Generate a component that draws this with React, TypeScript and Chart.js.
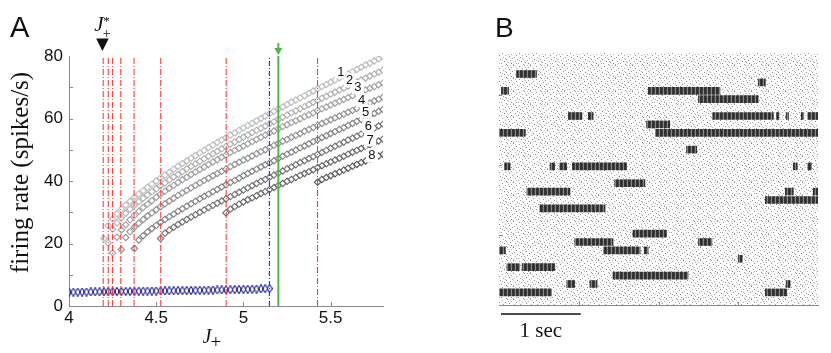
import React, { useEffect, useRef } from "react";
import { Chart, registerables } from "chart.js";

Chart.register(...registerables);

// ---------------- Panel A data ----------------
const J_GRID = [
  4.0, 4.025, 4.05, 4.075, 4.1, 4.125, 4.15, 4.175, 4.2, 4.225, 4.25, 4.275, 4.3, 4.325, 4.35, 4.375,
  4.4, 4.425, 4.45, 4.475, 4.5, 4.525, 4.55, 4.575, 4.6, 4.625, 4.65, 4.675, 4.7, 4.725, 4.75, 4.775,
  4.8, 4.825, 4.85, 4.875, 4.9, 4.925, 4.95, 4.975, 5.0, 5.025, 5.05, 5.075, 5.1, 5.125, 5.15, 5.175,
  5.2, 5.225, 5.25, 5.275, 5.3, 5.325, 5.35, 5.375, 5.4, 5.425, 5.45, 5.475, 5.5, 5.525, 5.55, 5.575,
  5.6, 5.625, 5.65, 5.675, 5.7, 5.725, 5.75, 5.775, 5.8,
];

// each branch ends at J = 5.8 (last grid value)
const BRANCH_1 = [
  21.6, 25.8, 27.9, 29.5, 31.0, 32.3, 33.5, 34.7, 35.8, 36.9, 38.0, 39.0, 40.0, 41.0, 41.9, 42.8, 43.8,
  44.7, 45.6, 46.4, 47.3, 48.1, 49.0, 49.8, 50.7, 51.5, 52.3, 53.1, 53.9, 54.7, 55.4, 56.2, 57.0, 57.8,
  58.5, 59.3, 60.0, 60.8, 61.5, 62.3, 63.0, 63.7, 64.5, 65.2, 65.9, 66.6, 67.3, 68.1, 68.8, 69.5, 70.2,
  70.9, 71.6, 72.3, 73.0, 73.6, 74.3, 75.0, 75.7, 76.4, 77.1, 77.7, 78.4, 79.1, 79.8,
];
const BRANCH_2 = [
  20.2, 24.6, 26.6, 28.2, 29.7, 31.0, 32.2, 33.4, 34.5, 35.5, 36.6, 37.5, 38.5, 39.4, 40.4, 41.3, 42.1,
  43.0, 43.9, 44.7, 45.5, 46.3, 47.1, 47.9, 48.7, 49.5, 50.3, 51.0, 51.8, 52.5, 53.3, 54.0, 54.7, 55.5,
  56.2, 56.9, 57.6, 58.3, 59.0, 59.7, 60.4, 61.1, 61.8, 62.5, 63.1, 63.8, 64.5, 65.2, 65.8, 66.5, 67.1,
  67.8, 68.4, 69.1, 69.7, 70.4, 71.0, 71.7, 72.3, 72.9, 73.6, 74.2, 74.8, 75.5,
];
const BRANCH_3 = [
  17.0, 22.0, 24.3, 26.0, 27.6, 29.0, 30.3, 31.5, 32.6, 33.7, 34.8, 35.8, 36.7, 37.7, 38.6, 39.5, 40.4,
  41.2, 42.1, 42.9, 43.7, 44.5, 45.3, 46.1, 46.8, 47.6, 48.3, 49.1, 49.8, 50.5, 51.2, 51.9, 52.6, 53.3,
  54.0, 54.7, 55.4, 56.0, 56.7, 57.4, 58.0, 58.7, 59.3, 59.9, 60.6, 61.2, 61.8, 62.5, 63.1, 63.7, 64.3,
  64.9, 65.5, 66.1, 66.7, 67.3, 67.9, 68.5, 69.1, 69.7, 70.2, 70.8, 71.4,
];
const BRANCH_4 = [
  18.1, 21.9, 23.8, 25.2, 26.5, 27.7, 28.8, 29.8, 30.8, 31.8, 32.7, 33.6, 34.5, 35.4, 36.2, 37.0, 37.8,
  38.6, 39.4, 40.2, 40.9, 41.7, 42.4, 43.1, 43.8, 44.6, 45.3, 46.0, 46.7, 47.3, 48.0, 48.7, 49.4, 50.0,
  50.7, 51.4, 52.0, 52.7, 53.3, 54.0, 54.6, 55.2, 55.9, 56.5, 57.1, 57.8, 58.4, 59.0, 59.6, 60.2, 60.8,
  61.4, 62.0, 62.6, 63.2, 63.8, 64.4, 65.0, 65.6, 66.2, 66.8,
];
const BRANCH_5 = [
  18.4, 21.1, 22.5, 23.7, 24.8, 25.8, 26.8, 27.7, 28.6, 29.4, 30.3, 31.1, 31.9, 32.7, 33.5, 34.3, 35.1,
  35.8, 36.6, 37.3, 38.1, 38.8, 39.5, 40.2, 40.9, 41.7, 42.4, 43.1, 43.8, 44.5, 45.2, 45.8, 46.5, 47.2,
  47.9, 48.6, 49.2, 49.9, 50.6, 51.2, 51.9, 52.6, 53.2, 53.9, 54.5, 55.2, 55.8, 56.5, 57.1, 57.8, 58.4,
  59.1, 59.7, 60.4, 61.0, 61.6, 62.3, 62.9,
];
const BRANCH_6 = [
  21.6, 23.3, 24.3, 25.2, 26.1, 26.9, 27.7, 28.5, 29.2, 30.0, 30.7, 31.5, 32.2, 32.9, 33.6, 34.3, 35.0,
  35.7, 36.4, 37.1, 37.8, 38.5, 39.2, 39.9, 40.5, 41.2, 41.9, 42.5, 43.2, 43.9, 44.5, 45.2, 45.9, 46.5,
  47.2, 47.8, 48.5, 49.1, 49.8, 50.5, 51.1, 51.8, 52.4, 53.1, 53.7, 54.3, 55.0, 55.6, 56.3, 56.9, 57.6,
  58.2,
];
const BRANCH_7 = [
  29.8, 31.0, 31.8, 32.6, 33.3, 34.0, 34.6, 35.3, 36.0, 36.6, 37.3, 37.9, 38.6, 39.2, 39.9, 40.5, 41.1,
  41.8, 42.4, 43.0, 43.6, 44.3, 44.9, 45.5, 46.1, 46.7, 47.3, 47.9, 48.6, 49.2, 49.8, 50.4, 51.0, 51.6,
  52.2, 52.8, 53.4,
];
const BRANCH_8 = [
  39.6, 40.5, 41.1, 41.7, 42.3, 42.9, 43.5, 44.1, 44.7, 45.3, 45.9, 46.4, 47.0, 47.5, 48.0, 48.5,
];
const BRANCHES = [BRANCH_1, BRANCH_2, BRANCH_3, BRANCH_4, BRANCH_5, BRANCH_6, BRANCH_7, BRANCH_8];
const BRANCH_COLORS = ["#bcbcbc", "#afafaf", "#a0a0a0", "#919191", "#838383", "#757575", "#686868", "#5c5c5c"];

// spontaneous (low) state, starts at J = 4.0
const LOW_STATE = [
  4.4, 4.42, 4.44, 4.46, 4.48, 4.5, 4.52, 4.54, 4.56, 4.58, 4.6, 4.62, 4.64, 4.66, 4.68, 4.7, 4.72, 4.74,
  4.76, 4.78, 4.8, 4.82, 4.84, 4.86, 4.88, 4.9, 4.92, 4.94, 4.97, 5.0, 5.02, 5.05, 5.08, 5.1, 5.13, 5.16,
  5.19, 5.22, 5.25, 5.28, 5.32, 5.35, 5.39, 5.43, 5.47, 5.52, 5.58,
];

const RED_LINES = [4.196, 4.225, 4.25, 4.297, 4.373, 4.526, 4.901, 5.425];
const BLUE_LINE = 5.149;
const GREEN_LINE = 5.2;
const J_STAR = 4.196;

const BRANCH_LABELS = ["1", "2", "3", "4", "5", "6", "7", "8"];
const LABEL_J = [5.558, 5.609, 5.656, 5.678, 5.701, 5.716, 5.726, 5.736];
const LABEL_RATE = [75.0, 72.2, 70.0, 65.8, 62.2, 57.6, 53.3, 48.2];

const X_TICKS_A = [4, 4.5, 5, 5.5];
const Y_TICKS_A = [0, 20, 40, 60, 80];
const Y_MINOR_A = [10, 20, 30, 40, 50, 60, 70];

// ---------------- Panel B data ----------------
const BURST_ROW = [
  27, 26, 25, 25, 24, 22, 22, 22, 22, 22, 22, 22, 21, 20, 20, 18, 16, 16, 16, 16, 16, 16, 14, 13, 13, 13,
  12, 11, 8, 7, 7, 6, 6, 6, 5, 4, 4, 3, 2, 2, 2, 1, 1,
];
const BURST_START = [
  0.22, 3.25, 0.03, 1.87, 2.5, 0.87, 1.12, 2.68, 3.48, 3.6, 3.79, 3.87, 1.85, 0.0, 1.96, 2.35, 0.07, 0.64,
  0.76, 0.92, 3.69, 3.87, 1.45, 0.35, 3.59, 3.94, 3.34, 0.51, 1.68, 0.95, 2.5, 1.31, 1.82, 0.0, 3.0, 0.1,
  0.29, 1.43, 0.85, 1.14, 3.6, 0.0, 3.34,
];
const BURST_END = [
  0.47, 3.34, 0.12, 2.77, 3.25, 1.04, 1.18, 3.44, 3.51, 3.63, 3.82, 4.0, 2.14, 0.33, 4.0, 2.48, 0.14, 0.7,
  0.85, 1.6, 3.74, 3.92, 1.83, 0.89, 3.69, 4.0, 4.0, 1.33, 2.1, 1.43, 2.67, 1.77, 1.87, 0.08, 3.05, 0.26,
  0.7, 2.37, 0.95, 1.23, 3.65, 0.66, 3.61,
];
const ROW_UNIT = 12;
const B_Y_MAX = 360;
const B_X_MAX = 4;
const B_X_TICKS = [1, 2, 3];
const B_Y_TICKS = [100, 200, 300];
const SCALE_BAR = [0, 1];
const SCALE_BAR_LABEL = "1 sec";

// ---------------- styles ----------------
const SANS = "'Liberation Sans', Arial, Helvetica, sans-serif";
const SERIF = "'Liberation Serif', 'Times New Roman', serif";
const AXIS_GRAY = "#8a8a8a";
const SPECKLE: [number, number, string][] = [
  [0, 0, "#888"], [6, 1, "#999"], [11, 0, "#999"], [15, 2, "#aaa"], [3, 3, "#888"], [9, 3, "#aaa"],
  [13, 4, "#888"], [1, 5, "#aaa"], [7, 5, "#999"], [16, 6, "#999"], [4, 7, "#888"], [10, 7, "#999"],
  [14, 8, "#999"], [2, 9, "#aaa"], [8, 9, "#888"], [12, 10, "#aaa"], [5, 11, "#999"], [15, 11, "#888"],
  [0, 12, "#aaa"], [10, 12, "#999"], [6, 8, "#bbb"], [12, 2, "#bbb"], [3, 11, "#bbb"], [9, 6, "#bbb"],
  [14, 0, "#bbb"], [2, 1, "#ccc"], [11, 9, "#bbb"],
];

function makeDiamond(w: number, h: number, color: string) {
  const c = document.createElement("canvas");
  c.width = w;
  c.height = h;
  const g = c.getContext("2d")!;
  g.strokeStyle = color;
  g.lineWidth = 1.1;
  g.beginPath();
  g.moveTo(w / 2, 0.5);
  g.lineTo(w - 0.5, h / 2);
  g.lineTo(w / 2, h - 0.5);
  g.lineTo(0.5, h / 2);
  g.closePath();
  g.stroke();
  return c;
}

function makeBurstPattern(ctx: CanvasRenderingContext2D) {
  const c = document.createElement("canvas");
  c.width = 4;
  c.height = 7;
  const g = c.getContext("2d")!;
  const cols = ["#2c2c2c", "#444444", "#858585", "#353535"];
  cols.forEach((col, i) => {
    g.fillStyle = col;
    g.fillRect(i, 0, 1, 7);
  });
  return ctx.createPattern(c, "repeat");
}

function makeSpecklePattern(ctx: CanvasRenderingContext2D) {
  const c = document.createElement("canvas");
  c.width = 17;
  c.height = 13;
  const g = c.getContext("2d")!;
  g.fillStyle = "#fff";
  g.fillRect(0, 0, 17, 13);
  SPECKLE.forEach(([x, y, col]) => {
    g.fillStyle = col;
    g.fillRect(x, y, 1, 1);
  });
  return ctx.createPattern(c, "repeat");
}

export default function App() {
  const refA = useRef<HTMLCanvasElement>(null);
  const refB = useRef<HTMLCanvasElement>(null);

  useEffect(() => {
    const blueDiamond = makeDiamond(6, 9, "#23238c");
    const n = J_GRID.length;

    // ---------- chart A ----------
    const datasetsA: any[] = [];
    const vline = (j: number, color: string, width: number, dash: number[]) => ({
      type: "line",
      data: [
        { x: j, y: 0 },
        { x: j, y: 80 },
      ],
      borderColor: color,
      borderWidth: width,
      borderDash: dash,
      pointRadius: 0,
      fill: false,
    });
    datasetsA.push(vline(GREEN_LINE, "#4db848", 2, []));
    datasetsA.push(vline(BLUE_LINE, "#3030ff", 1.2, [5, 2, 1, 2]));
    RED_LINES.forEach((j) => datasetsA.push(vline(j, "#ff2a2a", 1, [6, 2, 1, 2])));
    for (let k = BRANCHES.length - 1; k >= 0; k--) {
      const vals = BRANCHES[k];
      const off = n - vals.length;
      datasetsA.push({
        type: "scatter",
        data: vals.map((r, i) => ({ x: J_GRID[off + i], y: r })),
        pointStyle: "rectRot",
        pointRadius: 3.2,
        pointBorderWidth: 1.1,
        pointBorderColor: BRANCH_COLORS[k],
        pointBackgroundColor: "rgba(0,0,0,0)",
        showLine: false,
      });
    }
    datasetsA.push({
      type: "scatter",
      data: LOW_STATE.map((r, i) => ({ x: J_GRID[i], y: r })),
      pointStyle: blueDiamond,
      pointRadius: 3,
      showLine: false,
    });

    const decorA = {
      id: "decorA",
      afterDatasetsDraw(chart: any) {
        const { ctx, scales } = chart;
        const x = scales.x;
        const y = scales.y;
        ctx.save();
        ctx.font = `13px ${SANS}`;
        ctx.textAlign = "center";
        ctx.textBaseline = "middle";
        BRANCH_LABELS.forEach((t, i) => {
          const px = x.getPixelForValue(LABEL_J[i]);
          const py = y.getPixelForValue(LABEL_RATE[i]);
          ctx.fillStyle = "#fff";
          ctx.fillRect(px - 6, py - 7, 12, 14);
          ctx.fillStyle = "#111";
          ctx.fillText(t, px, py + 0.5);
        });
        ctx.restore();
      },
      afterDraw(chart: any) {
        const { ctx, scales, chartArea } = chart;
        const x = scales.x;
        const y = scales.y;
        ctx.save();
        // inward ticks
        ctx.strokeStyle = AXIS_GRAY;
        ctx.lineWidth = 1;
        ctx.beginPath();
        Y_MINOR_A.forEach((v) => {
          const py = Math.round(y.getPixelForValue(v)) + 0.5;
          ctx.moveTo(chartArea.left, py);
          ctx.lineTo(chartArea.left + 4, py);
        });
        X_TICKS_A.slice(1).forEach((v) => {
          const px = Math.round(x.getPixelForValue(v)) + 0.5;
          ctx.moveTo(px, chartArea.bottom);
          ctx.lineTo(px, chartArea.bottom - 4);
        });
        ctx.stroke();

        ctx.fillStyle = "#111";
        // panel letter
        ctx.font = `29px ${SANS}`;
        ctx.textAlign = "left";
        ctx.textBaseline = "alphabetic";
        ctx.fillText("A", 10, 36.5);

        // y title
        ctx.save();
        ctx.translate(chartArea.left - 41.5, (chartArea.top + chartArea.bottom) / 2 - 8.5);
        ctx.rotate(-Math.PI / 2);
        ctx.font = `25px ${SERIF}`;
        ctx.textAlign = "center";
        ctx.fillText("firing rate (spikes/s)", 0, 0);
        ctx.restore();

        // x title J_+
        const tx = x.getPixelForValue(4.765);
        ctx.font = `italic 20px ${SERIF}`;
        ctx.textAlign = "left";
        ctx.fillText("J", tx, chartArea.bottom + 37);
        ctx.font = `19px ${SERIF}`;
        ctx.fillText("+", tx + 8, chartArea.bottom + 42);

        // J*_+ marker
        const sx = x.getPixelForValue(J_STAR);
        ctx.font = `italic 21px ${SERIF}`;
        ctx.fillText("J", sx - 9, 31);
        ctx.font = `13px ${SERIF}`;
        ctx.fillText("*", sx, 24.5);
        ctx.font = `14px ${SERIF}`;
        ctx.fillText("+", sx - 0.5, 38);
        ctx.beginPath();
        ctx.moveTo(sx - 7, 38.5);
        ctx.lineTo(sx + 5.5, 38.5);
        ctx.lineTo(sx - 0.75, 51);
        ctx.closePath();
        ctx.fill();

        // green arrow
        const gx = x.getPixelForValue(GREEN_LINE);
        ctx.strokeStyle = "#4db848";
        ctx.fillStyle = "#4db848";
        ctx.lineWidth = 2;
        ctx.beginPath();
        ctx.moveTo(gx, chartArea.top - 13);
        ctx.lineTo(gx, chartArea.top - 6);
        ctx.stroke();
        ctx.beginPath();
        ctx.moveTo(gx - 4, chartArea.top - 8);
        ctx.lineTo(gx + 4, chartArea.top - 8);
        ctx.lineTo(gx, chartArea.top - 1);
        ctx.closePath();
        ctx.fill();
        ctx.restore();
      },
    };

    const chartA = new Chart(refA.current!, {
      type: "scatter",
      data: { datasets: datasetsA },
      options: {
        responsive: false,
        animation: false,
        events: [],
        layout: { padding: { left: 0, top: 56, right: 57, bottom: 0 } },
        plugins: { legend: { display: false }, tooltip: { enabled: false } },
        scales: {
          x: {
            type: "linear",
            min: 4,
            max: 5.8,
            grid: { display: false, drawTicks: false },
            border: { color: AXIS_GRAY, width: 1 },
            ticks: {
              font: { family: SANS, size: 17 },
              color: "#111",
              padding: 2,
              maxRotation: 0,
              callback: (v: any) => String(v),
            },
            afterBuildTicks: (s: any) => {
              s.ticks = X_TICKS_A.map((v) => ({ value: v }));
            },
            afterFit: (s: any) => {
              s.height = 47;
            },
          },
          y: {
            type: "linear",
            min: 0,
            max: 80,
            grid: { display: false, drawTicks: false },
            border: { color: AXIS_GRAY, width: 1 },
            ticks: {
              font: { family: SANS, size: 17 },
              color: "#111",
              padding: 6,
              callback: (v: any) => String(v),
            },
            afterBuildTicks: (s: any) => {
              s.ticks = Y_TICKS_A.map((v) => ({ value: v }));
            },
            afterFit: (s: any) => {
              s.width = 69;
            },
          },
        },
      } as any,
      plugins: [decorA],
    } as any);

    // ---------- chart B ----------
    const ctxB = refB.current!.getContext("2d")!;
    const burstPattern = makeBurstPattern(ctxB);
    const specklePattern = makeSpecklePattern(ctxB);

    const decorB = {
      id: "decorB",
      beforeDatasetsDraw(chart: any) {
        const { ctx, chartArea } = chart;
        ctx.save();
        ctx.fillStyle = specklePattern;
        ctx.fillRect(chartArea.left, chartArea.top, chartArea.right - chartArea.left, chartArea.bottom - chartArea.top);
        ctx.restore();
      },
      afterDraw(chart: any) {
        const { ctx, scales, chartArea } = chart;
        const x = scales.x;
        const y = scales.y;
        ctx.save();
        ctx.strokeStyle = AXIS_GRAY;
        ctx.lineWidth = 1;
        ctx.beginPath();
        B_Y_TICKS.forEach((v) => {
          const py = Math.round(y.getPixelForValue(v)) + 0.5;
          ctx.moveTo(chartArea.left, py);
          ctx.lineTo(chartArea.left + 3, py);
        });
        B_X_TICKS.forEach((v) => {
          const px = Math.round(x.getPixelForValue(v)) + 0.5;
          ctx.moveTo(px, chartArea.bottom);
          ctx.lineTo(px, chartArea.bottom - 3);
        });
        ctx.stroke();

        // scale bar
        const x0 = x.getPixelForValue(SCALE_BAR[0]) + 2;
        const x1 = x.getPixelForValue(SCALE_BAR[1]) + 2;
        ctx.strokeStyle = "#111";
        ctx.lineWidth = 1.5;
        ctx.beginPath();
        ctx.moveTo(x0, chartArea.bottom + 9);
        ctx.lineTo(x1, chartArea.bottom + 9);
        ctx.stroke();
        ctx.fillStyle = "#111";
        ctx.font = `21px ${SERIF}`;
        ctx.textAlign = "center";
        ctx.textBaseline = "alphabetic";
        ctx.fillText(SCALE_BAR_LABEL, (x0 + x1) / 2, chartArea.bottom + 32);

        ctx.font = `28px ${SANS}`;
        ctx.textAlign = "left";
        ctx.fillText("B", 50, 36.5);
        ctx.restore();
      },
    };

    const chartB = new Chart(refB.current!, {
      type: "bar",
      data: {
        datasets: [
          {
            data: BURST_ROW.map((r, i) => ({
              x: [BURST_START[i], BURST_END[i]],
              y: r * ROW_UNIT + ROW_UNIT / 2,
            })),
            backgroundColor: burstPattern,
            borderWidth: 0,
            barThickness: 7,
          },
        ],
      },
      options: {
        indexAxis: "y",
        responsive: false,
        animation: false,
        events: [],
        layout: { padding: { left: 54, top: 53, right: 13, bottom: 0 } },
        plugins: { legend: { display: false }, tooltip: { enabled: false } },
        scales: {
          x: {
            type: "linear",
            min: 0,
            max: B_X_MAX,
            offset: false,
            grid: { display: false, drawTicks: false, offset: false },
            border: { color: AXIS_GRAY, width: 1 },
            ticks: { display: false },
            afterFit: (s: any) => {
              s.height = 48;
            },
          },
          y: {
            type: "linear",
            min: 0,
            max: B_Y_MAX,
            offset: false,
            grid: { display: false, drawTicks: false, offset: false },
            border: { color: AXIS_GRAY, width: 1 },
            ticks: { display: false },
            afterFit: (s: any) => {
              s.width = 0;
            },
          },
        },
      } as any,
      plugins: [decorB],
    } as any);

    return () => {
      chartA.destroy();
      chartB.destroy();
    };
  }, []);

  return (
    <div style={{ position: "fixed", left: 0, top: 0, width: 831, height: 353, background: "#fff" }}>
      <canvas ref={refA} width={440} height={353} style={{ position: "absolute", left: 0, top: 0 }} />
      <canvas ref={refB} width={386} height={353} style={{ position: "absolute", left: 445, top: 0 }} />
    </div>
  );
}
